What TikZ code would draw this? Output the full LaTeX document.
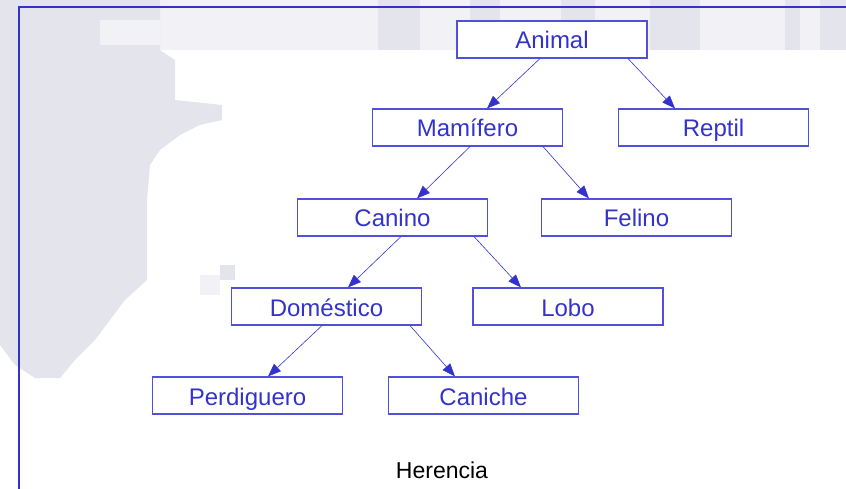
\documentclass[tikz,border=0pt]{standalone}
\usepackage{fontspec}
\setmainfont{Liberation Sans}
\usetikzlibrary{arrows.meta}
\definecolor{azul}{RGB}{51,51,204}
\definecolor{borde}{RGB}{80,80,220}
\definecolor{fondo}{RGB}{228,228,236}
\definecolor{fondoclaro}{RGB}{241,241,246}
\tikzset{
  clase/.style={draw=borde,line width=1.1pt,fill=white,text=azul,minimum width=190pt,minimum height=37pt,inner sep=0pt,text height=24pt,text depth=5pt,font=\fontsize{24}{28}\selectfont},
  flecha/.style={azul,line width=0.6pt,-{Triangle[length=13pt,width=10pt]}}
}
\begin{document}
\begin{tikzpicture}[x=1pt,y=-1pt]
\useasboundingbox (0,0) rectangle (846,489);

%Fondo

\begin{scope}
\fill[fondoclaro] (0,0) rectangle (846,50);
\foreach \a/\b in {378/420,470/500,561/595,650/700,785/800,820/846}
  \fill[fondo] (\a,0) rectangle (\b,50);
\fill[fondo] (0,0) -- (160,0) -- (160,50) -- (175,60) -- (175,100) -- (222,105) -- (222,120) -- (200,125) -- (180,135) -- (160,150) -- (150,165) -- (147,200) -- (147,280) -- (125,300) -- (110,320) -- (95,340) -- (75,360) -- (60,378) -- (35,378) -- (15,365) -- (0,345) -- cycle;
\fill[fondoclaro] (100,20) rectangle (160,45);
\fill[fondo] (220,265) rectangle (235,280);
\fill[fondoclaro] (200,275) rectangle (220,295);
\end{scope}

%Marco

\draw[azul,line width=2pt] (846,7) -- (19,7) -- (19,489);

%Jerarquia

\begin{scope}
\node[clase] (animal) at (552,39.5) {Animal};
\node[clase] (mamifero) at (467.5,127.5) {Mamífero};
\node[clase] (reptil) at (713.5,127.5) {Reptil};
\node[clase] (canino) at (392.5,217.5) {Canino};
\node[clase] (felino) at (636.5,217.5) {Felino};
\node[clase] (domestico) at (326.5,306.5) {Doméstico};
\node[clase] (lobo) at (568,306.5) {Lobo};
\node[clase] (perdiguero) at (247.5,395.5) {Perdiguero};
\node[clase] (caniche) at (483.5,395.5) {Caniche};

\draw[flecha] ([xshift=-12pt]animal.south) -- ([xshift=19.5pt]mamifero.north);
\draw[flecha] ([xshift=76pt]animal.south) -- ([xshift=-38.5pt]reptil.north);
\draw[flecha] ([xshift=2.5pt]mamifero.south) -- ([xshift=24.5pt]canino.north);
\draw[flecha] ([xshift=75.5pt]mamifero.south) -- ([xshift=-47.5pt]felino.north);
\draw[flecha] ([xshift=8.5pt]canino.south) -- ([xshift=21.5pt]domestico.north);
\draw[flecha] ([xshift=81.5pt]canino.south) -- ([xshift=-47pt]lobo.north);
\draw[flecha] ([xshift=-4.5pt]domestico.south) -- ([xshift=20.5pt]perdiguero.north);
\draw[flecha] ([xshift=83.5pt]domestico.south) -- ([xshift=-28.5pt]caniche.north);
\end{scope}

\node[font=\fontsize{23}{27}\selectfont] (titulo) at (442,470) {Herencia};

\end{tikzpicture}
\end{document}
